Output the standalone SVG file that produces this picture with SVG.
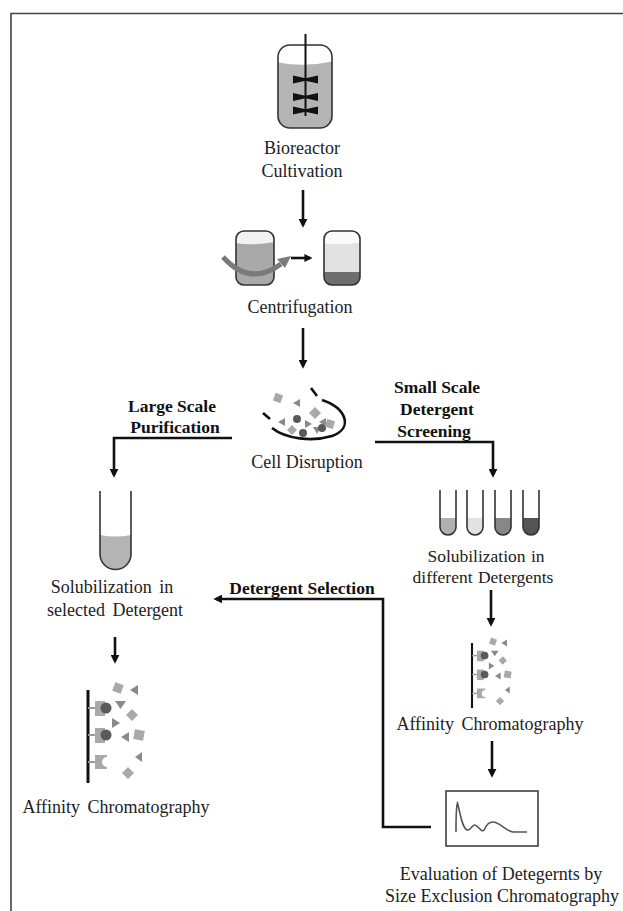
<svg xmlns="http://www.w3.org/2000/svg" xmlns:xlink="http://www.w3.org/1999/xlink" width="623" height="911" viewBox="0 0 623 911">
  <style>
    .lbl { font-family: "Liberation Serif", "Times New Roman", serif; font-size: 18px; fill: #222; text-anchor: middle; }
    .bold { font-weight: bold; font-size: 17.5px; fill: #111; }
    .wide { word-spacing: 3px; }
    .narrow { font-size: 17.5px; word-spacing: 1px; }
    .conn { fill: none; stroke: #111; stroke-width: 2.6; }
    .outline { stroke: #333; stroke-width: 1.6; }
    .sq { fill: #a9a9a9; }
    .tri { fill: #8a8a8a; }
    .dot { fill: #5a5a5a; }
  </style>
  <defs>
    <marker id="head" viewBox="0 0 10 10" refX="7" refY="5" markerWidth="9" markerHeight="9" markerUnits="userSpaceOnUse" orient="auto">
      <path d="M0,0 L10,5 L0,10 z" fill="#111"/>
    </marker>
    <marker id="headSmall" viewBox="0 0 10 10" refX="7" refY="5" markerWidth="8" markerHeight="8" markerUnits="userSpaceOnUse" orient="auto">
      <path d="M0,0 L10,5 L0,10 z" fill="#111"/>
    </marker>
    <clipPath id="vesselClip">
      <rect x="278" y="45" width="54" height="83" rx="12"/>
    </clipPath>
    <clipPath id="tubeL">
      <rect x="236" y="231" width="38" height="54" rx="8"/>
    </clipPath>
    <clipPath id="tubeR">
      <rect x="324" y="231" width="36" height="54" rx="8"/>
    </clipPath>
    <!-- affinity column: bead bar with ligands and free particles -->
    <g id="affinityColumn">
      <line x1="88" y1="690" x2="88" y2="783" stroke="#111" stroke-width="3"/>
      <g stroke="#9a9a9a" stroke-width="2">
        <line x1="88" y1="708" x2="96" y2="708"/>
        <line x1="88" y1="735" x2="96" y2="735"/>
        <line x1="88" y1="762" x2="96" y2="762"/>
      </g>
      <rect class="sq" x="95" y="701" width="10" height="15"/>
      <circle class="dot" cx="106" cy="708" r="5.5"/>
      <rect class="sq" x="95" y="728" width="10" height="15"/>
      <circle class="dot" cx="106" cy="735" r="5.5"/>
      <path class="sq" d="M95 755 H107 V757 A5 5 0 0 0 107 767 V769 H95 Z"/>
      <rect class="sq" x="113.5" y="683.5" width="9" height="9" transform="rotate(20 118 688)"/>
      <polygon class="tri" points="130,690 138,685 138,695"/>
      <polygon class="tri" points="115,701 126,701 120.5,709"/>
      <polygon class="sq" points="132,709 138,715 132,721 126,715"/>
      <polygon class="tri" points="112,718 112,728 120,723"/>
      <polygon class="tri" points="121,737 129,732 129,742"/>
      <rect class="sq" x="134" y="730" width="10" height="10" transform="rotate(10 139 735)"/>
      <polygon class="tri" points="135,757 142,752 142,762"/>
      <polygon class="sq" points="128,767 134,773 128,779 122,773"/>
    </g>
  </defs>

  <rect width="623" height="911" fill="#fff"/>
  <!-- frame -->
  <path d="M623 13.5 H11 V911" fill="none" stroke="#444" stroke-width="1.6"/>

  <!-- connectors -->
  <g id="connectors">
    <path class="conn" d="M303 190 V225" marker-end="url(#head)"/>
    <path class="conn" d="M303 328 V366" marker-end="url(#head)"/>
    <path class="conn" d="M232 438 H114 V475" marker-end="url(#head)"/>
    <path class="conn" d="M375 442 H493 V475" marker-end="url(#head)"/>
    <path class="conn" d="M491 590 V624" marker-end="url(#head)"/>
    <path class="conn" d="M492 741 V775" marker-end="url(#head)"/>
    <path class="conn" d="M431 827 H383 V599 H216" marker-end="url(#head)"/>
    <path class="conn" d="M115 637 V661" marker-end="url(#head)"/>
  </g>

  <!-- bioreactor -->
  <g id="bioreactor">
    <rect x="278" y="45" width="54" height="83" rx="12" fill="#fff"/>
    <path d="M276 62 Q305 68 334 61 V130 H276 Z" fill="#b4b4b4" clip-path="url(#vesselClip)"/>
    <rect class="outline" x="278" y="45" width="54" height="83" rx="12" fill="none"/>
    <line x1="305.5" y1="34" x2="305.5" y2="116" stroke="#111" stroke-width="2"/>
    <g fill="#111">
      <polygon points="293,75.5 293,83.5 305.5,80.8 318,83.5 318,75.5 305.5,78.2"/>
      <polygon points="293,93 293,101 305.5,98.3 318,101 318,93 305.5,95.7"/>
      <polygon points="293,106.5 293,114.5 305.5,111.8 318,114.5 318,106.5 305.5,109.2"/>
    </g>
    <text class="lbl" x="302" y="154">Bioreactor</text>
    <text class="lbl" x="302" y="177">Cultivation</text>
  </g>

  <!-- centrifugation -->
  <g id="centrifugation">
    <rect x="236" y="231" width="38" height="54" rx="8" fill="#f2f2f2"/>
    <path d="M234 243 Q255 246 276 242 V290 H234 Z" fill="#a9a9a9" clip-path="url(#tubeL)"/>
    <rect class="outline" x="236" y="231" width="38" height="54" rx="8" fill="none"/>
    <path d="M223 257 Q250 287 281 264" fill="none" stroke="#7a7a7a" stroke-width="5"/>
    <polygon points="277,259 291,256 285,268" fill="#7a7a7a"/>
    <path d="M291 258 H310" stroke="#111" stroke-width="2.6" marker-end="url(#headSmall)"/>
    <rect x="324" y="231" width="36" height="54" rx="8" fill="#fafafa"/>
    <path d="M322 243 Q342 246 362 242 V272 H322 Z" fill="#e2e2e2" clip-path="url(#tubeR)"/>
    <rect x="322" y="272" width="40" height="16" fill="#6e6e6e" clip-path="url(#tubeR)"/>
    <rect class="outline" x="324" y="231" width="36" height="54" rx="8" fill="none"/>
    <text class="lbl" x="300" y="313">Centrifugation</text>
  </g>

  <!-- cell disruption -->
  <g id="cellDisruption">
    <path d="M322 400 C346 408 354 428 332 436 C312 442 286 439 272 428" fill="none" stroke="#111" stroke-width="2.6"/>
    <path d="M263 413 L270 419" stroke="#111" stroke-width="2.6"/>
    <path d="M311 388 L317 396" stroke="#111" stroke-width="2.6"/>
    <rect class="sq" x="274" y="394" width="8" height="8" transform="rotate(20 278 398)"/>
    <polygon class="tri" points="293,403 300,399 300,407"/>
    <polygon class="sq" points="315,407 321,413 315,419 309,413"/>
    <polygon class="tri" points="278,422 285,418 285,426"/>
    <circle class="dot" cx="297" cy="419" r="4"/>
    <polygon class="tri" points="305,420 305,428 312,424"/>
    <polygon class="sq" points="292,425 297,430 292,435 287,430"/>
    <circle class="dot" cx="303" cy="433" r="4"/>
    <polygon class="tri" points="313,427 321,427 317,434"/>
    <circle class="dot" cx="322" cy="428" r="4"/>
    <polygon class="tri" points="319,422 326,418 326,426"/>
    <rect class="sq" x="326" y="420" width="8" height="8" transform="rotate(15 330 424)"/>
    <text class="lbl" x="307" y="468">Cell Disruption</text>
  </g>

  <!-- branch labels -->
  <g id="largeScale">
    <text class="lbl bold" x="172" y="412">Large Scale</text>
    <text class="lbl bold" x="175" y="433">Purification</text>
  </g>
  <g id="smallScale">
    <text class="lbl bold" x="437" y="393">Small Scale</text>
    <text class="lbl bold" x="437" y="415">Detergent</text>
    <text class="lbl bold" x="434" y="437">Screening</text>
  </g>

  <!-- solubilization, selected detergent -->
  <g id="solubilizationSelected">
    <path d="M100 491 V554 A15.5 15.5 0 0 0 131 554 V491" fill="#fff"/>
    <path d="M100 535 Q115 538 131 535 V554 A15.5 15.5 0 0 1 100 554 Z" fill="#b4b4b4"/>
    <path class="outline" d="M100 491 V554 A15.5 15.5 0 0 0 131 554 V491" fill="none"/>
    <text class="lbl wide" x="112" y="593">Solubilization in</text>
    <text class="lbl wide" x="115" y="616">selected Detergent</text>
  </g>

  <!-- solubilization, detergent panel -->
  <g id="solubilizationPanel">
    <path d="M440 518 H456 V527 A8 8 0 0 1 440 527 Z" fill="#b0b0b0"/>
    <path d="M467 518 H483 V527 A8 8 0 0 1 467 527 Z" fill="#e2e2e2"/>
    <path d="M495 518 H511 V527 A8 8 0 0 1 495 527 Z" fill="#878787"/>
    <path d="M523 518 H539 V527 A8 8 0 0 1 523 527 Z" fill="#555"/>
    <g class="outline" fill="none">
      <path d="M440 490 V527 A8 8 0 0 0 456 527 V490"/>
      <path d="M467 490 V527 A8 8 0 0 0 483 527 V490"/>
      <path d="M495 490 V527 A8 8 0 0 0 511 527 V490"/>
      <path d="M523 490 V527 A8 8 0 0 0 539 527 V490"/>
    </g>
    <text class="lbl narrow" x="486" y="562">Solubilization in</text>
    <text class="lbl narrow" x="483" y="583">different Detergents</text>
  </g>

  <g id="detergentSelection">
    <text class="lbl bold" x="302" y="594">Detergent Selection</text>
  </g>

  <!-- affinity chromatography, large scale -->
  <g id="affinityLarge">
    <use xlink:href="#affinityColumn"/>
    <text class="lbl wide" x="116" y="813">Affinity Chromatography</text>
  </g>

  <!-- affinity chromatography, screening -->
  <g id="affinitySmall">
    <use xlink:href="#affinityColumn" transform="translate(472 643) scale(0.7) translate(-88 -690)"/>
    <text class="lbl wide" x="490" y="730">Affinity Chromatography</text>
  </g>

  <!-- size exclusion evaluation -->
  <g id="sizeExclusion">
    <rect x="446" y="791" width="92" height="55" fill="#fff" stroke="#333" stroke-width="1.5"/>
    <path d="M456 832 C456 820 456 806 457.5 803 C460 812 462 828 467 830 C471 831 472 824 475 825 C479 826 481 833 484 830 C487 824 489 822 493 822 C500 822 505 831 513 832 L527 832" fill="none" stroke="#555" stroke-width="1.6"/>
    <text class="lbl" x="501" y="880">Evaluation of Detegernts by</text>
    <text class="lbl" x="502" y="902">Size Exclusion Chromatography</text>
  </g>
</svg>
